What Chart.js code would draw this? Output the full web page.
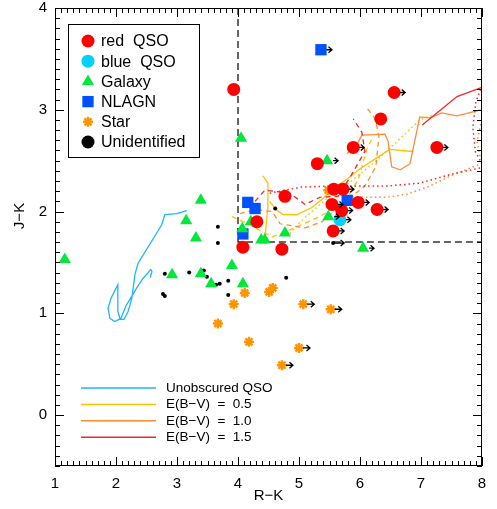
<!DOCTYPE html>
<html>
<head>
<meta charset="utf-8">
<script src="https://cdn.jsdelivr.net/npm/chart.js@4.4.0/dist/chart.umd.min.js"></script>
<style>
  html, body { margin: 0; padding: 0; background: #fff; }
</style>
</head>
<body>
<canvas id="wykres" width="497" height="509"></canvas>
<script>
var plotFont = "'Liberation Sans', Arial, Helvetica, sans-serif";

// colour-colour points, R-K / J-K; lim = 1 where R-K is only a lower limit
var redQsoRK  = [3.93, 6.56, 6.34, 5.89, 7.26, 5.30, 4.77, 5.57, 5.72, 5.54, 5.97, 5.70, 6.28, 4.31, 5.56, 4.08, 4.72];
var redQsoJK  = [3.20, 3.17, 2.91, 2.63, 2.63, 2.47, 2.15, 2.22, 2.22, 2.07, 2.09, 2.01, 2.02, 1.90, 1.81, 1.65, 1.63];
var redQsoLim = [0, 1, 0, 1, 1, 0, 0, 0, 1, 1, 1, 1, 1, 0, 1, 0, 0];

var blueQsoRK  = [5.67];
var blueQsoJK  = [1.92];
var blueQsoLim = [1];

var galaxyRK  = [1.16, 4.05, 3.39, 3.15, 3.31, 2.92, 3.39, 3.56, 3.90, 4.08, 4.21, 4.07, 4.38, 4.44, 4.77, 5.46, 5.48, 6.05, 5.58];
var galaxyJK  = [1.53, 2.72, 2.11, 1.91, 1.74, 1.38, 1.39, 1.29, 1.47, 1.29, 1.90, 1.83, 1.72, 1.72, 1.79, 2.50, 1.95, 1.64, 2.05];
var galaxyLim = [0, 0, 0, 0, 0, 0, 0, 0, 0, 0, 0, 0, 0, 0, 0, 1, 1, 1, 0];

var nlagnRK  = [5.36, 4.16, 4.28, 5.79, 4.08];
var nlagnJK  = [3.59, 2.09, 2.03, 2.11, 1.78];
var nlagnLim = [1, 0, 0, 0, 0];

var starRK  = [4.11, 3.93, 3.67, 4.18, 4.51, 4.57, 5.07, 5.52, 5.00, 4.72, 5.48];
var starJK  = [1.20, 1.09, 0.90, 0.72, 1.21, 1.25, 1.09, 1.04, 0.66, 0.49, 2.21];
var starLim = [0, 0, 0, 0, 0, 0, 1, 1, 1, 1, 0];

var unidRK  = [3.67, 3.67, 2.80, 3.20, 3.44, 3.49, 3.64, 3.70, 3.84, 3.84, 2.77, 2.80, 4.79, 5.56, 4.61];
var unidJK  = [1.85, 1.69, 1.39, 1.40, 1.42, 1.36, 1.28, 1.29, 1.32, 1.18, 1.19, 1.17, 1.35, 1.69, 2.03];
var unidLim = [0, 0, 0, 0, 0, 0, 0, 0, 0, 0, 0, 0, 0, 1, 0];

// selection cut
var cutRK = [4, 4, 8];
var cutJK = [4, 1.7, 1.7];

// model tracks
var unobscRK = [3.16, 3.00, 2.80, 2.75, 2.36, 2.31, 2.26, 2.20, 2.13, 2.07, 2.03, 2.03, 1.92, 1.87, 1.90, 1.98, 2.08, 2.16, 2.23, 2.34, 2.44, 2.57, 2.59, 2.56];
var unobscJK = [2.01, 1.98, 1.97, 1.87, 1.49, 1.38, 1.15, 1.02, 0.94, 0.94, 1.02, 1.28, 1.15, 1.05, 0.95, 0.92, 0.95, 1.07, 1.14, 1.25, 1.34, 1.43, 1.41, 1.35];

var ebv05aRK = [4.41, 4.49, 4.49, 4.44];
var ebv05aJK = [2.35, 2.28, 2.05, 1.73];
var ebv05bRK = [4.52, 4.62, 4.74, 4.97, 5.21, 5.38, 5.54, 5.79, 6.00, 6.28, 6.49, 6.87];
var ebv05bJK = [2.10, 2.02, 1.97, 1.97, 2.04, 2.12, 2.22, 2.32, 2.42, 2.53, 2.61, 2.59];
var ebv05DashRK = [3.90, 4.16, 4.56, 4.85, 5.34, 5.75, 5.97, 6.11, 6.20];
var ebv05DashJK = [1.95, 1.88, 1.75, 1.82, 1.95, 2.10, 2.31, 2.61, 2.72];
var ebv05DotRK = [4.85, 5.02, 5.31, 5.59, 5.84, 6.21, 6.61, 6.98, 7.20];
var ebv05DotJK = [1.78, 1.90, 2.05, 2.20, 2.29, 2.47, 2.69, 2.90, 2.95];

var ebv10RK = [5.79, 5.97, 6.03, 6.41, 6.46, 6.52, 6.66, 6.82, 6.98, 7.15, 7.34, 7.59, 7.98];
var ebv10JK = [2.57, 2.68, 2.75, 2.76, 2.69, 2.44, 2.41, 2.47, 2.93, 2.92, 2.97, 2.94, 3.00];
var ebv10DashRK = [4.03, 4.28, 4.56, 4.69, 5.10, 5.38, 5.75, 6.08, 6.26, 6.31, 6.25, 6.10];
var ebv10DashJK = [1.98, 2.02, 2.00, 1.88, 1.84, 1.90, 2.10, 2.25, 2.44, 2.74, 2.91, 3.03];
var ebv10DotRK = [5.51, 5.79, 6.11, 6.44, 6.77, 7.10, 7.52, 7.98];
var ebv10DotJK = [2.18, 2.15, 2.14, 2.14, 2.17, 2.24, 2.36, 2.47];
var ebv10EdgeRK = [7.98, 7.92, 7.97];
var ebv10EdgeJK = [2.86, 2.69, 2.54];

var ebv15RK = [7.02, 7.59, 8.00];
var ebv15JK = [2.85, 3.13, 3.22];
var ebv15DashRK = [4.28, 4.44, 4.85, 5.10, 5.34, 5.64, 5.84, 6.08, 6.03, 5.89];
var ebv15DashJK = [2.10, 2.21, 2.18, 2.07, 2.14, 2.15, 2.34, 2.59, 2.78, 2.91];
var ebv15DotRK = [4.52, 5.02, 5.51, 6.00, 6.44, 6.98, 7.52, 7.98];
var ebv15DotJK = [2.18, 2.24, 2.25, 2.25, 2.25, 2.28, 2.37, 2.43];
var ebv15EdgeRK = [7.98, 7.90, 7.85, 7.89, 7.98];
var ebv15EdgeJK = [3.20, 3.08, 2.83, 2.59, 2.49];

var colRed = '#ff0000', colCyan = '#00d2ff', colGreen = '#00e83a', colBlue = '#0050ff',
    colStar = '#ff9400', colUnobsc = '#22b4ff', col05 = '#ffc000', col10 = '#ff8c33', col15 = '#f02828';

function pts(rk, jk) {
    var out = [];
    for (var i = 0; i < rk.length; i++) {
        out.push({ x: rk[i], y: jk[i] });
    }
    return out;
}

function markers(label, rk, jk, lim, style, color, radius, gap) {
    return {
        label: label,
        data: pts(rk, jk),
        limits: lim,
        arrowGap: gap,
        pointStyle: style,
        backgroundColor: color,
        borderColor: color,
        pointRadius: radius,
        pointHoverRadius: radius,
        borderWidth: style === 'star' ? 2.4 : 0,
        showLine: false
    };
}

function track(rk, jk, color, dash, width) {
    return {
        data: pts(rk, jk),
        borderColor: color,
        borderWidth: width || 1.3,
        borderDash: dash || [],
        pointRadius: 0,
        pointHoverRadius: 0,
        showLine: true,
        fill: false,
        tension: 0
    };
}

var dotted = [1.5, 3];
var dashed = [5, 4];

var datasets = [
    markers('red  QSO', redQsoRK, redQsoJK, redQsoLim, 'circle', colRed, 6.5, 6),
    markers('blue  QSO', blueQsoRK, blueQsoJK, blueQsoLim, 'circle', colCyan, 6.5, 6),
    markers('Galaxy', galaxyRK, galaxyJK, galaxyLim, 'triangle', colGreen, 7, 6),
    markers('NLAGN', nlagnRK, nlagnJK, nlagnLim, 'rect', colBlue, 8, 5.5),
    markers('Star', starRK, starJK, starLim, 'star', colStar, 5, 4),
    markers('Unidentified', unidRK, unidJK, unidLim, 'circle', '#000', 2, 1),
    track(ebv15RK, ebv15JK, col15),
    track(ebv15DashRK, ebv15DashJK, col15, dashed),
    track(ebv15DotRK, ebv15DotJK, col15, dotted, 1.5),
    track(ebv15EdgeRK, ebv15EdgeJK, col15, dotted, 1.5),
    track(ebv10RK, ebv10JK, col10),
    track(ebv10DashRK, ebv10DashJK, col10, dashed),
    track(ebv10DotRK, ebv10DotJK, col10, dotted, 1.5),
    track(ebv10EdgeRK, ebv10EdgeJK, col10, dotted, 1.5),
    track(ebv05aRK, ebv05aJK, col05),
    track(ebv05bRK, ebv05bJK, col05),
    track(ebv05DashRK, ebv05DashJK, col05, dashed),
    track(ebv05DotRK, ebv05DotJK, col05, dotted, 1.5),
    track(unobscRK, unobscJK, colUnobsc),
    track(cutRK, cutJK, '#333', [7, 4], 1.5)
];

// lower-limit arrows pointing to redder R-K
var arrowPlugin = {
    id: 'limitArrows',
    afterDatasetsDraw: function (chart) {
        var c = chart.ctx;
        c.save();
        c.strokeStyle = '#000';
        c.lineWidth = 1.3;
        chart.data.datasets.forEach(function (ds, i) {
            if (!ds.limits) return;
            var meta = chart.getDatasetMeta(i);
            meta.data.forEach(function (el, j) {
                if (!ds.limits[j]) return;
                var x0 = el.x + ds.arrowGap, x1 = el.x + 11, y = el.y;
                c.beginPath();
                c.moveTo(x0, y);
                c.lineTo(x1, y);
                c.moveTo(x1 - 3.5, y - 3);
                c.lineTo(x1, y);
                c.lineTo(x1 - 3.5, y + 3);
                c.stroke();
            });
        });
        c.restore();
    }
};

// box with inward ticks on all four sides
var framePlugin = {
    id: 'frame',
    afterDraw: function (chart) {
        var c = chart.ctx, a = chart.chartArea;
        var xs = chart.scales.x, ys = chart.scales.y;
        c.save();
        c.strokeStyle = '#000';
        c.lineWidth = 1;
        c.strokeRect(a.left + 0.5, a.top + 0.5, a.right - a.left - 1, a.bottom - a.top - 1);
        c.beginPath();
        var i, p, len;
        for (i = 0; i <= 70; i++) {
            p = Math.round(xs.getPixelForValue(1 + i / 10)) + 0.5;
            len = i % 10 === 0 ? 9 : 5;
            c.moveTo(p, a.bottom); c.lineTo(p, a.bottom - len);
            c.moveTo(p, a.top); c.lineTo(p, a.top + len);
        }
        for (i = 0; i <= 45; i++) {
            var v = -0.5 + i / 10;
            p = Math.round(ys.getPixelForValue(v)) + 0.5;
            len = Math.abs(v - Math.round(v)) < 1e-6 ? 9 : 5;
            c.moveTo(a.left, p); c.lineTo(a.left + len, p);
            c.moveTo(a.right, p); c.lineTo(a.right - len, p);
        }
        c.stroke();

        // y axis title
        c.fillStyle = '#000';
        c.font = '15px ' + plotFont;
        c.textAlign = 'center';
        c.textBaseline = 'middle';
        c.translate(20, 216);
        c.rotate(-Math.PI / 2);
        c.fillText('J−K', 0, 0);
        c.restore();
    }
};

// symbol key (upper left) and track key (lower left)
var trackKey = [
    { text: 'Unobscured QSO', color: colUnobsc },
    { text: 'E(B−V)  =  0.5', color: col05 },
    { text: 'E(B−V)  =  1.0', color: col10 },
    { text: 'E(B−V)  =  1.5', color: col15 }
];
var keyRadius = [6.5, 6.5, 7, 8, 5, 6.5];

var keyPlugin = {
    id: 'keys',
    afterDraw: function (chart) {
        var c = chart.ctx;
        c.save();
        c.strokeStyle = '#000';
        c.lineWidth = 1;
        c.strokeRect(68.5, 24.5, 131, 133);
        c.font = '16px ' + plotFont;
        c.textAlign = 'left';
        c.textBaseline = 'middle';
        for (var i = 0; i < 6; i++) {
            var ds = chart.data.datasets[i];
            var y = 41 + i * 20.2;
            c.fillStyle = ds.backgroundColor;
            c.strokeStyle = ds.borderColor;
            c.lineWidth = ds.borderWidth;
            Chart.helpers.drawPoint(c, {
                pointStyle: ds.pointStyle,
                radius: keyRadius[i],
                rotation: 0,
                borderWidth: ds.borderWidth
            }, 88, y);
            c.fillStyle = '#000';
            c.fillText(ds.label, 101, y + 1);
        }

        c.font = '13.5px ' + plotFont;
        trackKey.forEach(function (k, j) {
            var y = 388 + j * 16.4;
            c.strokeStyle = k.color;
            c.lineWidth = 1.5;
            c.beginPath();
            c.moveTo(81, y);
            c.lineTo(156, y);
            c.stroke();
            c.fillStyle = '#000';
            c.fillText(k.text, 166, y);
        });
        c.restore();
    }
};

var ctx = document.getElementById('wykres').getContext('2d');
var myChart = new Chart(ctx, {
    type: 'scatter',
    data: { datasets: datasets },
    options: {
        responsive: false,
        animation: false,
        events: [],
        layout: { padding: { left: 0, right: 15, top: 6, bottom: 0 } },
        plugins: {
            legend: { display: false },
            tooltip: { enabled: false }
        },
        scales: {
            x: {
                type: 'linear',
                min: 1,
                max: 8,
                ticks: {
                    stepSize: 1,
                    padding: 9,
                    color: '#000',
                    font: { family: plotFont, size: 15 }
                },
                grid: { display: false, drawTicks: false },
                border: { display: false },
                title: {
                    display: true,
                    text: 'R−K',
                    color: '#000',
                    font: { family: plotFont, size: 15 },
                    padding: { top: 0, bottom: 4 }
                },
                afterFit: function (s) {
                    s.height = 43;
                    s.paddingLeft = 0;
                    s.paddingRight = 0;
                }
            },
            y: {
                type: 'linear',
                min: -0.5,
                max: 4,
                afterBuildTicks: function (s) {
                    s.ticks = [0, 1, 2, 3, 4].map(function (v) { return { value: v }; });
                },
                ticks: {
                    padding: 8,
                    color: '#000',
                    font: { family: plotFont, size: 15 }
                },
                grid: { display: false, drawTicks: false },
                border: { display: false },
                afterFit: function (s) {
                    s.width = 55;
                    s.paddingTop = 0;
                    s.paddingBottom = 0;
                }
            }
        }
    },
    plugins: [arrowPlugin, framePlugin, keyPlugin]
});
</script>
</body>
</html>
